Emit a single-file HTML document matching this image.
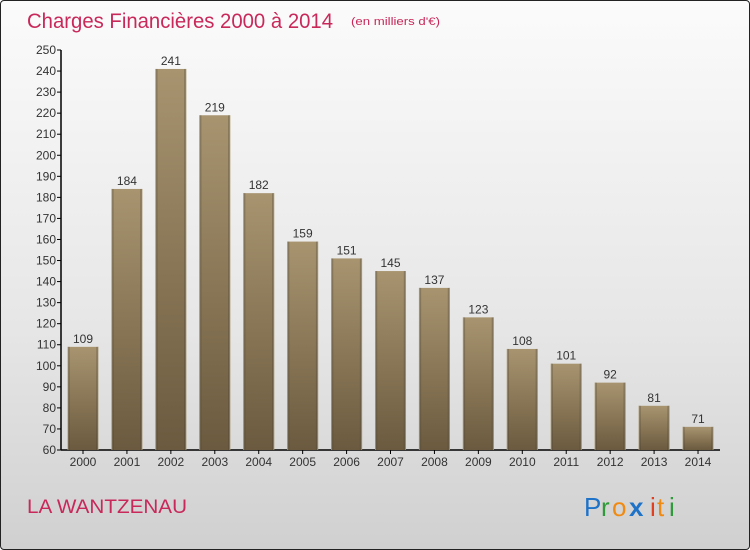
<!DOCTYPE html>
<html><head><meta charset="utf-8"><style>
html,body{margin:0;padding:0}
body{width:750px;height:550px;overflow:hidden;font-family:"Liberation Sans",sans-serif}
#wrap{position:absolute;left:0;top:0;width:748px;height:548px;border:1px solid #222;border-radius:4px;background:linear-gradient(#fbfbfb,#e6e6e6 60%,#d0d0d0)}
</style></head><body>
<div id="wrap">
<svg width="750" height="550" style="position:absolute;left:-1px;top:-1px">
<defs>
<linearGradient id="bg" x1="0" y1="0" x2="0" y2="1"><stop offset="0" stop-color="#a8946f"/><stop offset="1" stop-color="#6b5a3f"/></linearGradient>
<linearGradient id="edge" x1="0" y1="0" x2="1" y2="0"><stop offset="0" stop-color="#c9b894"/><stop offset="0.08" stop-color="#000" stop-opacity="0"/><stop offset="0.92" stop-color="#000" stop-opacity="0"/><stop offset="1" stop-color="#c9b894"/></linearGradient>
</defs>
<text x="27" y="28" font-size="21" fill="#c8285a" textLength="306" lengthAdjust="spacingAndGlyphs">Charges Financières 2000 à 2014</text>
<text x="351" y="25" font-size="11" fill="#c8285a" textLength="89" lengthAdjust="spacingAndGlyphs">(en milliers d'€)</text>
<g id="axes"></g>
<g id="bars"></g>
<text x="27" y="513" font-size="19" fill="#c8285a" textLength="160" lengthAdjust="spacingAndGlyphs">LA WANTZENAU</text>
<g font-size="26">
<text x="584" y="516" fill="#1e73c8">P</text><text x="601" y="516" fill="#2e9a3a">r</text><text x="612" y="516" fill="#f08a10">o</text><text x="629" y="516" fill="#1e73c8" font-weight="bold">x</text><text x="650" y="516" fill="#e04020">i</text><text x="657" y="516" fill="#f08a10">t</text><text x="669" y="516" fill="#2e9a3a">i</text>
</g>
</svg>
</div>
<script>
const years=["2000","2001","2002","2003","2004","2005","2006","2007","2008","2009","2010","2011","2012","2013","2014"];
const values=[109,184,241,219,182,159,151,145,137,123,108,101,92,81,71];
const yTicks=[60,70,80,90,100,110,120,130,140,150,160,170,180,190,200,210,220,230,240,250];
const NS="http://www.w3.org/2000/svg";
const y0=450,y1=50,vmin=60,vmax=250,x0=61,step=43.93,first=83,bw=31;
function yS(v){return y0-(v-vmin)/(vmax-vmin)*(y0-y1);}
function xS(i){return first+i*step;}
function mk(t,a,p){const e=document.createElementNS(NS,t);for(const k in a)e.setAttribute(k,a[k]);p.appendChild(e);return e;}
const ax=document.getElementById('axes'),bg=document.getElementById('bars');
const yl=mk('line',{x1:x0,y1:y1,x2:x0,y2:y0,stroke:'#000','stroke-width':1.5},ax);


const xl=mk('line',{x1:x0,y1:y0,x2:720,y2:y0,stroke:'#000','stroke-width':1.5},ax);


yTicks.forEach(v=>{const y=yS(v);
mk('line',{x1:x0-4,y1:y,x2:x0,y2:y,stroke:'#000'},ax);
const t=mk('text',{x:x0-5,y:y+4,'font-size':12,fill:'#333','text-anchor':'end'},ax);t.textContent=v;

});
years.forEach((yr,i)=>{const x=xS(i);
mk('line',{x1:x,y1:y0,x2:x,y2:y0+4,stroke:'#000'},ax);
const t=mk('text',{x:x,y:y0+16,'font-size':12,fill:'#333','text-anchor':'middle'},ax);t.textContent=yr;


const top=yS(values[i]);
const r=mk('rect',{x:x-bw/2,y:top,width:bw,height:y0-top,fill:'url(#bg)'},bg);


mk('rect',{x:x-bw/2,y:top,width:bw,height:y0-top,fill:'url(#edge)'},bg);
const l=mk('text',{x:x,y:top-4,'font-size':12,fill:'#333','text-anchor':'middle'},bg);l.textContent=values[i];

});
</script>
</body></html>
